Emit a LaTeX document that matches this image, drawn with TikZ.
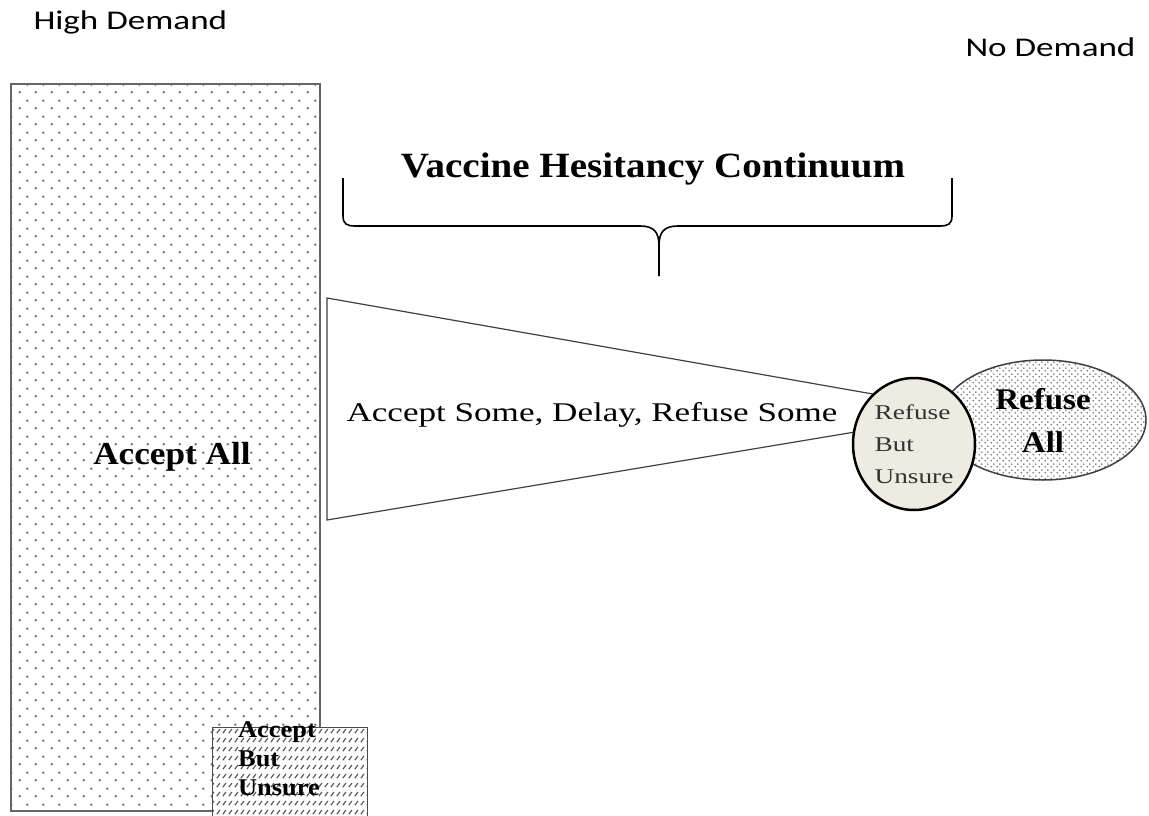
\documentclass[tikz,border=0pt]{standalone}
\usepackage{fontspec}
\setmainfont[FakeStretch=1.3]{Liberation Serif}
\newfontfamily\heavy[FakeStretch=1.1]{Liberation Serif}
\newfontfamily\calibri[FakeStretch=1.3]{Carlito}
\usetikzlibrary{shapes.geometric,patterns.meta}
\definecolor{unsurefill}{HTML}{EEEBE0}
\tikzdeclarepattern{name=sparsedots, type=uncolored,
  bounding box={(0pt,0pt) and (16pt,16pt)}, tile size={(16pt,16pt)},
  code={\fill (4pt,4pt) circle (1.4pt); \fill (12pt,12pt) circle (1.4pt);}}
\tikzdeclarepattern{name=densedots, type=uncolored,
  bounding box={(0pt,0pt) and (6pt,6pt)}, tile size={(6pt,6pt)},
  code={\fill (1.5pt,1.5pt) circle (1pt); \fill (4.5pt,4.5pt) circle (1pt);}}
\tikzdeclarepattern{name=slashes, type=uncolored,
  bounding box={(0pt,0pt) and (6pt,9pt)}, tile size={(6pt,9pt)},
  code={\draw[line width=1.3pt] (1pt,2pt) -- (4.5pt,6.5pt);}}
\tikzset{
demand/.style={font=\calibri\fontsize{27}{32}\selectfont, anchor=base west},
acceptbox/.style={draw=black!60, line width=2pt, preaction={fill=white},
    pattern=sparsedots, pattern color=black!55, inner sep=0pt},
unsurebox/.style={draw=black!70, line width=1.2pt, preaction={fill=white},
    pattern=slashes, pattern color=black!65, inner sep=0pt},
refusebox/.style={ellipse, draw=black!75, line width=1.5pt, preaction={fill=white},
    pattern=densedots, pattern color=black!55, inner sep=0pt,
    font=\heavy\bfseries\fontsize{30}{43}\selectfont, align=center},
doubtbox/.style={ellipse, draw, line width=2.5pt, fill=unsurefill, inner sep=0pt,
    font=\fontsize{21}{32}\selectfont, text=black!80, align=left}
}

\begin{document}
\begin{tikzpicture}[x=1pt, y=-1pt]
	\useasboundingbox (0,0) rectangle (1149,816);
	\node[demand] (high) at (30,30) {High Demand};
	\node[demand] (nodemand) at (962,57) {No Demand};
	% columns on the left
	\node[acceptbox, minimum width=309pt, minimum height=727pt] (acceptall) at (165.5,447.5) {};
	\node[font=\heavy\bfseries\fontsize{32}{36}\selectfont, anchor=base] (acceptalltext) at (172,464) {Accept All};
	\node[unsurebox, anchor=north west, minimum width=155pt, minimum height=100pt] (acceptunsure) at (212,727) {};
	\node[font=\heavy\bfseries\fontsize{24}{29}\selectfont, align=left] (acceptunsuretext) at (279,759) {Accept\\But\\Unsure};
	% brace and funnel
	\node[font=\heavy\bfseries\fontsize{35.5}{40}\selectfont, anchor=base] (title) at (653,177) {Vaccine Hesitancy Continuum};
	\draw[line width=1.6pt] (343,178) -- (343,216) .. controls (343,224) and (347,226) .. (355,226) -- (640,226)
		.. controls (654,226) and (659,232) .. (659,246) -- (659,276);
	\draw[line width=1.6pt] (952,178) -- (952,216) .. controls (952,224) and (948,226) .. (940,226) -- (678,226)
		.. controls (664,226) and (659,232) .. (659,246);
	\coordinate (tl) at (327,298);
	\coordinate (bl) at (327,520);
	\coordinate (tip) at (975,412);
	\draw[black!75, line width=1.2pt] (tip) -- (tl) -- (bl) -- (tip);
	\node[font=\fontsize{27}{32}\selectfont, anchor=base west] (some) at (343,421) {Accept Some, Delay, Refuse Some};
	\node[refusebox, minimum width=206pt, minimum height=120pt] (refuseall) at (1043,420) {Refuse\\All};
	\node[doubtbox, minimum width=122pt, minimum height=132pt] (refuseunsure) at (914,444) {Refuse\\But\\Unsure};
\end{tikzpicture}
\end{document}
